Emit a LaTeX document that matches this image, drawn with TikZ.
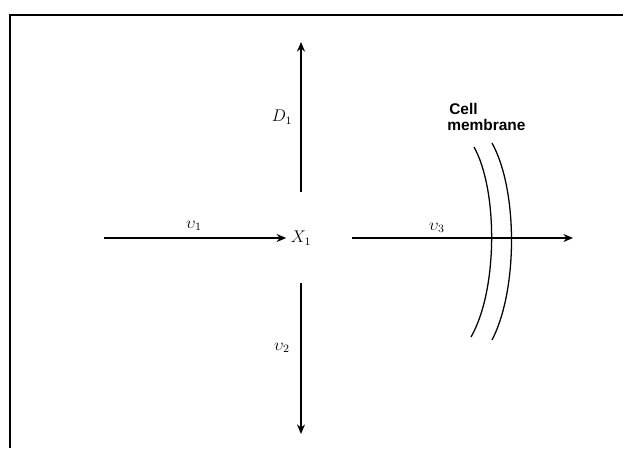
\documentclass[tikz,border=0pt]{standalone}
\usepackage{fontspec}
\setmainfont{Liberation Sans}
\usetikzlibrary{arrows.meta}
\tikzset{
  flow/.style={-{Stealth[length=2.4mm, width=2mm]}, line width=1pt},
  flowlab/.style={font=\large, inner sep=1pt},
  membrane/.style={line width=0.9pt},
  memtext/.style={font=\fontsize{11}{13}\selectfont\bfseries, anchor=base west, inner sep=0pt},
  frameline/.style={line width=1.3pt},
}

\begin{document}
\begin{tikzpicture}[x=0.025cm, y=-0.025cm]
\useasboundingbox (0,0) rectangle (623,448);
% --- frame ---
\draw[frameline] (10,448) -- (10,15) -- (623,15);
% --- pool ---
\node[flowlab] (x1) at (301,238) {$X_1$};
\coordinate (v1in) at (104,238);
\coordinate (d1out) at (301,42);
\coordinate (v2out) at (301,434);
\coordinate (v3out) at (573,238);
% --- fluxes ---
\draw[flow, shorten >=3.7mm] (v1in) -- (x1.center);
\draw[flow, shorten <=1.15cm] (x1.center) -- (d1out);
\draw[flow, shorten <=1.12cm] (x1.center) -- (v2out);
\draw[flow, shorten <=1.27cm] (x1.center) -- (v3out);
\node[flowlab] (v1lab) at (194,226) {$\upsilon_1$};
\node[flowlab] (d1lab) at (282,117) {$D_1$};
\node[flowlab] (v2lab) at (282,348) {$\upsilon_2$};
\node[flowlab] (v3lab) at (437,228) {$\upsilon_3$};
% --- cell membrane ---
\draw[membrane] (474,147) .. controls (498,190) and (498,290) .. (471,337);
\draw[membrane] (492,143) .. controls (518,190) and (518,290) .. (492,340);
\node[memtext] (celllab) at (449,114) {Cell};
\node[memtext] (memlab) at (447,130) {membrane};
\end{tikzpicture}
\end{document}
